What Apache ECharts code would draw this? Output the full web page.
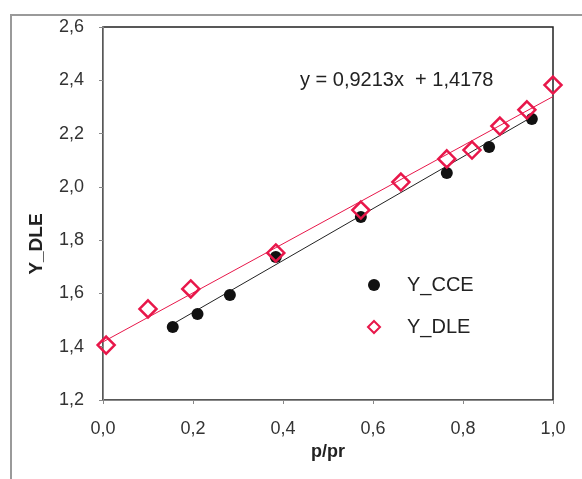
<!DOCTYPE html>
<html>
<head>
<meta charset="utf-8">
<script src="https://cdn.jsdelivr.net/npm/echarts@6/dist/echarts.min.js"></script>
<style>
  html, body { margin: 0; padding: 0; background: #fff; }
  #chart { width: 582px; height: 479px; }
</style>
</head>
<body>
<div id="chart"></div>
<script>
// values
const cceX = [0.155, 0.21, 0.282, 0.384, 0.573, 0.764, 0.858, 0.953]
const cceY = [1.474, 1.523, 1.594, 1.737, 1.887, 2.052, 2.15, 2.255]
const dleX = [0.007, 0.10, 0.195, 0.384, 0.573, 0.662, 0.764, 0.82, 0.882, 0.942, 1.0]
const dleY = [1.406, 1.542, 1.617, 1.752, 1.913, 2.018, 2.105, 2.138, 2.228, 2.289, 2.382]
// trendline end points
const cceFitX = [0.155, 0.953]
const cceFitY = [1.485, 2.262]
const dleFitX = [0.0, 1.0]
const dleFitY = [1.418, 2.339]
const equation = 'y = 0,9213x  + 1,4178'

const RED = '#e8174a'
const FONT = '"Liberation Sans", Arial, sans-serif'

const pairs = (xs, ys) => xs.map((x, i) => [x, ys[i]])
const comma = v => v.toFixed(1).replace('.', ',')

const chart = echarts.init(document.getElementById('chart'))

chart.setOption({
  animation: false,
  textStyle: { fontFamily: FONT },
  grid: {
    left: 103, right: 29, top: 27, bottom: 79,
    show: true, borderColor: '#222', borderWidth: 1.5, backgroundColor: '#fff',
  },
  graphic: [
    {
      type: 'rect', z: -1,
      shape: { x: 11, y: 15, width: 600, height: 500 },
      style: { fill: 'none', stroke: '#9a9a9a', lineWidth: 2 },
    },
    {
      type: 'text', left: 300, top: 70,
      style: { text: equation, fill: '#222', font: '20px ' + FONT },
    },
    // y axis title sits below the plot centre in the original
    {
      type: 'text', x: 37, y: 244, rotation: Math.PI / 2,
      style: {
        text: 'Y_DLE', fill: '#222', font: 'bold 19px ' + FONT,
        align: 'center', verticalAlign: 'middle',
      },
    },
  ],
  legend: {
    data: ['Y_CCE', 'Y_DLE'],
    orient: 'vertical',
    left: 362, top: 270,
    itemWidth: 12, itemHeight: 12, itemGap: 22,
    textStyle: { fontSize: 20, color: '#222', fontFamily: FONT, padding: [0, 0, 0, 22] },
  },
  xAxis: {
    type: 'value', min: 0, max: 1, interval: 0.2,
    name: 'p/pr', nameLocation: 'middle', nameGap: 43,
    nameTextStyle: { fontSize: 18, fontWeight: 'bold', color: '#222' },
    axisLine: { lineStyle: { color: '#888' } },
    axisTick: { show: true, length: 4, lineStyle: { color: '#888' } },
    splitLine: { show: false },
    axisLabel: { fontSize: 18, color: '#333', margin: 20, formatter: comma },
  },
  yAxis: {
    type: 'value', min: 1.2, max: 2.6, interval: 0.2,
    axisLine: { show: true, lineStyle: { color: '#888' } },
    axisTick: { show: true, length: 4, lineStyle: { color: '#888' } },
    splitLine: { show: false },
    axisLabel: { fontSize: 18, color: '#333', margin: 19, formatter: comma },
  },
  series: [
    {
      name: 'cce fit', type: 'line', data: pairs(cceFitX, cceFitY),
      showSymbol: false, silent: true,
      lineStyle: { color: '#222', width: 1 },
    },
    {
      name: 'dle fit', type: 'line', data: pairs(dleFitX, dleFitY),
      showSymbol: false, silent: true,
      lineStyle: { color: RED, width: 1 },
    },
    {
      name: 'Y_CCE', type: 'scatter', data: pairs(cceX, cceY),
      symbol: 'circle', symbolSize: 12,
      itemStyle: { color: '#111', opacity: 1 },
      z: 3,
    },
    {
      name: 'Y_DLE', type: 'scatter', data: pairs(dleX, dleY),
      symbol: 'diamond', symbolSize: 17,
      itemStyle: { color: 'rgba(255,255,255,0)', borderColor: RED, borderWidth: 2.5, opacity: 1 },
      z: 4,
    },
  ],
})
</script>
</body>
</html>
